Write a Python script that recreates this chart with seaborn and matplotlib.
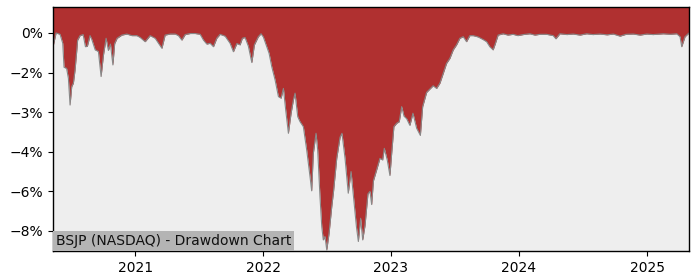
import numpy as np
import pandas as pd
import matplotlib
matplotlib.use("Agg")
import matplotlib.pyplot as plt
import seaborn as sns

# Decimal-year positions of the traced drawdown points
years = [2020.359, 2020.383, 2020.414, 2020.435, 2020.445, 2020.465, 2020.479, 2020.492, 2020.505, 2020.518,
         2020.531, 2020.545, 2020.551, 2020.570, 2020.594, 2020.612, 2020.627, 2020.648, 2020.662, 2020.688,
         2020.713, 2020.734, 2020.752, 2020.773, 2020.791, 2020.807, 2020.826, 2020.840, 2020.859, 2020.896,
         2020.935, 2020.974, 2021.013, 2021.039, 2021.078, 2021.117, 2021.156, 2021.182, 2021.209, 2021.234,
         2021.273, 2021.313, 2021.338, 2021.365, 2021.391, 2021.430, 2021.469, 2021.508, 2021.534, 2021.560,
         2021.586, 2021.612, 2021.638, 2021.664, 2021.703, 2021.742, 2021.768, 2021.795, 2021.820, 2021.838,
         2021.859, 2021.885, 2021.912, 2021.932, 2021.963, 2021.984, 2022.002, 2022.029, 2022.047, 2022.068,
         2022.094, 2022.120, 2022.141, 2022.159, 2022.177, 2022.198, 2022.219, 2022.237, 2022.250, 2022.271,
         2022.289, 2022.315, 2022.341, 2022.367, 2022.380, 2022.393, 2022.414, 2022.427, 2022.445, 2022.459,
         2022.471, 2022.484, 2022.498, 2022.516, 2022.537, 2022.551, 2022.576, 2022.602, 2022.617, 2022.641,
         2022.666, 2022.688, 2022.707, 2022.730, 2022.745, 2022.763, 2022.779, 2022.797, 2022.820, 2022.836,
         2022.849, 2022.863, 2022.888, 2022.914, 2022.935, 2022.948, 2022.971, 2022.992, 2023.005, 2023.023,
         2023.045, 2023.065, 2023.084, 2023.102, 2023.123, 2023.148, 2023.172, 2023.201, 2023.230, 2023.248,
         2023.279, 2023.305, 2023.330, 2023.357, 2023.383, 2023.409, 2023.435, 2023.461, 2023.487, 2023.513,
         2023.539, 2023.565, 2023.591, 2023.617, 2023.643, 2023.682, 2023.721, 2023.748, 2023.773, 2023.799,
         2023.813, 2023.838, 2023.877, 2023.914, 2023.955, 2023.992, 2024.034, 2024.086, 2024.125, 2024.164,
         2024.216, 2024.268, 2024.289, 2024.320, 2024.375, 2024.424, 2024.477, 2024.529, 2024.578, 2024.633,
         2024.688, 2024.737, 2024.789, 2024.836, 2024.893, 2024.945, 2024.998, 2025.047, 2025.127, 2025.180,
         2025.232, 2025.258, 2025.271, 2025.297, 2025.328]

# Drawdown in percent
drawdown = [-0.52, 0.0, -0.05, -0.39, -1.30, -1.34, -1.72, -2.73, -2.03, -1.90,
            -1.40, -0.64, -0.27, -0.10, -0.06, -0.52, -0.50, -0.10, -0.25, -0.64,
            -0.70, -1.65, -0.85, -0.20, -0.66, -0.42, -1.21, -0.40, -0.20, -0.08,
            -0.04, -0.10, -0.10, -0.17, -0.33, -0.10, -0.20, -0.39, -0.58, -0.08,
            -0.04, -0.04, -0.10, -0.27, -0.06, -0.02, -0.02, -0.05, -0.27, -0.42,
            -0.39, -0.52, -0.20, -0.05, -0.12, -0.39, -0.71, -0.40, -0.45, -0.20,
            -0.17, -0.50, -1.12, -0.45, -0.14, -0.03, -0.15, -0.52, -0.77, -1.28,
            -1.78, -2.41, -2.47, -2.10, -2.92, -3.80, -3.04, -2.54, -2.28, -3.17,
            -3.36, -3.55, -4.43, -5.44, -5.98, -4.56, -3.80, -4.43, -6.20, -7.34,
            -7.84, -7.71, -8.22, -7.59, -6.58, -6.00, -4.75, -3.95, -3.80, -4.75,
            -6.07, -5.25, -6.20, -7.34, -7.90, -7.02, -7.84, -7.30, -6.10, -6.00,
            -6.50, -5.60, -5.19, -4.75, -4.81, -4.37, -4.81, -5.40, -4.60, -3.55,
            -3.42, -3.36, -2.79, -3.15, -3.25, -3.50, -3.04, -3.61, -3.88, -2.79,
            -2.25, -2.12, -2.00, -2.10, -1.90, -1.53, -1.15, -0.96, -0.64, -0.45,
            -0.20, -0.14, -0.33, -0.10, -0.10, -0.15, -0.25, -0.33, -0.52, -0.64,
            -0.45, -0.08, -0.03, -0.08, -0.05, -0.10, -0.06, -0.03, -0.08, -0.05,
            -0.05, -0.10, -0.22, -0.03, -0.06, -0.04, -0.08, -0.03, -0.06, -0.04,
            -0.07, -0.04, -0.12, -0.05, -0.04, -0.08, -0.04, -0.06, -0.03, -0.05,
            -0.03, -0.14, -0.52, -0.14, 0.0]

tick_values = [0.0, -1.5, -3.0, -4.5, -6.0, -7.5]
title_text = "BSJP (NASDAQ) - Drawdown Chart"


def to_date(t):
    y = int(np.floor(t))
    start = pd.Timestamp(year=y, month=1, day=1)
    end = pd.Timestamp(year=y + 1, month=1, day=1)
    return start + (end - start) * (t - y)


df = pd.DataFrame({"date": [to_date(t) for t in years], "dd": drawdown})

sns.set_style("white")
fig = plt.figure(figsize=(7, 2.8), dpi=100)
ax = fig.add_axes([53 / 700, 1 - 251 / 280, (689 - 53) / 700, (251 - 7) / 280])
ax.set_facecolor("#eeeeee")

top = 0.985
ax.fill_between(df["date"], df["dd"], top, color="#b03030", linewidth=0)
sns.lineplot(data=df, x="date", y="dd", ax=ax, color="#888888", linewidth=0.8)

ax.set_xlim(df["date"].iloc[0], df["date"].iloc[-1])
ax.set_ylim(-8.26, top)
ax.set_yticks(tick_values)
ax.set_yticklabels([("{:.0f}%".format(v)).replace("-", "\u2212") if v != 0 else "0%" for v in tick_values])
ax.set_xlabel("")
ax.set_ylabel("")

import matplotlib.dates as mdates
ax.xaxis.set_major_locator(mdates.YearLocator())
ax.xaxis.set_major_formatter(mdates.DateFormatter("%Y"))

for s in ax.spines.values():
    s.set_visible(True)
    s.set_color("black")
    s.set_linewidth(1.0)
ax.tick_params(axis="both", which="major", direction="out", length=3.5, width=0.8,
               labelsize=10, colors="black", left=True, bottom=True)

ax.text(0.005, 0.012, title_text, transform=ax.transAxes, fontsize=10, color="#111111",
        ha="left", va="bottom",
        bbox=dict(facecolor="#b4b4b4", edgecolor="none", pad=2.0))

fig.savefig("out.png", dpi=100)
